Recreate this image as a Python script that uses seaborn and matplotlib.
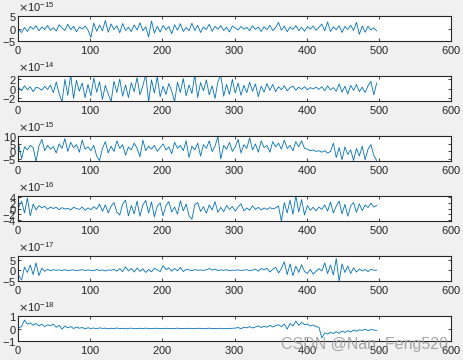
import numpy as np
import matplotlib
matplotlib.use("Agg")
import matplotlib.pyplot as plt
import seaborn as sns
from matplotlib.ticker import ScalarFormatter

# sample index (every 4th sample of 1..500)
sample = np.arange(1, 501, 4)

# each series, in units of its exponent
sig1 = [-0.5, -1.6, 0.4, -1.2, 0.8, -0.3, 1.1, -0.9, 0.6, -0.4,
        1.2, -0.7, 0.3, -1.0, 1.5, 0.2, -0.8, 1.7, -0.5, 0.9,
        -1.3, 0.6, -0.2, 1.0, -0.6, -3.6, 2.2, -1.1, 1.4, -0.9,
        3.2, -1.5, 1.8, -0.4, 1.1, -1.7, 2.0, -0.8, 0.5, -1.2,
        1.4, -0.6, 2.3, -0.9, 0.7, -3.4, 3.0, -1.8, 0.9, -1.4,
        1.2, -0.5, 0.8, -2.1, 1.5, -0.7, 1.9, -1.2, 0.4, -0.9,
        2.1, -0.8, 1.3, -1.6, 0.6, -0.4, 1.7, -1.1, 0.9, -0.3,
        1.2, -0.8, 0.5, -1.4, 1.0, 0.2, -0.6, 0.8, -0.3, 0.5,
        -0.9, 1.1, -0.4, 0.6, -1.2, 0.7, -0.5, 1.3, -0.8, 0.4,
        2.4, -0.7, 1.0, -1.3, 0.6, -0.4, 1.2, -0.9, 0.5, -1.1,
        0.8, -0.3, 1.0, -0.7, 0.4, 1.8, -0.9, 2.6, -1.2, 0.7,
        -0.5, 1.1, -1.6, 0.8, -0.4, 1.3, -0.8, 2.5, -2.3, 1.0,
        -1.5, 0.9, -0.6, 0.3, -1.0]
sig2 = [0.2, -0.5, 0.6, -0.3, 0.4, -0.7, 0.3, 0.1, -0.4, 0.5,
        -0.2, 0.7, -0.9, 1.4, -1.1, -3.0, 2.0, -1.5, 3.0, -2.2,
        1.8, -0.6, 1.2, -2.0, 0.9, -1.6, 2.3, -0.8, 1.5, -2.4,
        0.7, -1.2, -2.9, 1.6, -0.9, 2.1, -1.7, 0.8, -2.0, 1.3,
        -0.7, 2.4, -1.4, 0.6, 3.0, -2.9, 1.9, -1.0, 2.6, -1.8,
        0.5, -1.3, 1.1, -0.6, -2.9, 1.4, -0.9, 2.2, -1.6, 0.8,
        -1.1, 3.0, -2.0, 1.3, -0.5, 1.9, -1.4, 0.6, -2.2, 1.5,
        3.0, -1.7, 0.9, -1.3, 2.0, -1.0, 1.2, -1.5, 0.7, -0.9,
        1.4, -0.6, 1.0, -1.8, 0.5, -0.8, 1.1, -0.4, 0.9, -0.7,
        0.4, -0.3, 0.6, -0.5, 0.2, 0.5, -0.4, 0.3, -0.2, 0.4,
        -0.3, 0.2, -0.1, 0.3, -0.2, 0.4, -0.5, 0.6, -0.3, 0.2,
        -0.6, 1.0, -0.8, 0.5, -1.2, 0.7, -0.4, 0.9, -0.7, 0.3,
        -0.9, 0.6, 1.6, -1.4, 1.2]
sig3 = [4.5, -4.8, 3.0, 1.0, 4.0, 2.5, -6.5, 3.5, 8.0, 0.5,
        4.0, 1.5, 3.2, -1.0, 5.0, 2.0, 8.5, 0.0, 6.0, 2.5,
        4.5, -0.5, 7.5, 1.5, 3.0, 0.5, 4.0, -3.0, -6.0, 2.0,
        6.5, -1.0, 3.5, 0.0, 7.0, 2.0, 4.5, -2.5, 3.0, 1.0,
        5.5, 2.0, -3.5, 7.5, 0.5, 3.5, 1.5, 4.0, 0.0, 2.5,
        5.0, 1.0, 3.0, -1.5, 6.0, 2.0, 4.0, 0.5, 7.0, -4.0,
        3.5, 1.0, 5.5, -3.0, 4.5, 2.0, 7.0, 0.0, 3.5, 10.0,
        -5.0, 4.0, 1.5, 6.0, 0.0, 3.0, 8.0, -1.0, 4.5, 2.0,
        9.0, 1.0, 5.0, -0.5, 7.0, 2.5, 4.0, -0.5, 6.5, 3.0,
        5.5, 1.5, 7.5, 2.0, 4.0, 0.5, 6.5, 3.0, 7.0, 2.0,
        1.5, 0.5, 1.0, 0.0, 0.5, -0.5, 0.5, -1.0, 0.0, 5.5,
        -4.0, 2.5, -5.5, 3.0, -2.0, 1.0, -6.0, 2.0, -3.0, 3.5,
        -5.5, 1.5, 4.5, -2.5, -6.0]
sig4 = [0.5, 2.5, -1.5, 3.5, -2.5, 1.5, -0.5, 1.0, 0.2, 0.8,
        -0.3, 0.5, 0.0, 0.4, -0.4, 0.3, -0.2, 0.1, -0.5, 0.4,
        0.0, -0.3, 0.5, -0.6, 0.2, -0.4, 0.6, -0.2, 1.5, -1.0,
        1.2, -1.5, 0.8, 2.0, -1.2, -2.2, 1.5, 2.8, -2.5, 1.0,
        -1.8, 2.5, -2.6, 1.2, 2.7, -1.5, 2.2, -2.8, 0.8, 1.9,
        -2.5, 1.0, 2.3, -1.2, 0.5, -1.9, 2.6, -0.8, 1.5, -2.4,
        -3.6, 1.3, 2.0, -1.0, 0.6, -1.6, 1.2, -0.5, 2.3, -1.3,
        0.4, -1.1, 1.0, -0.3, 0.7, -0.9, 0.5, 1.6, -0.8, 0.2,
        -0.6, 0.9, -0.3, 0.4, -0.5, 0.2, -0.3, 0.3, -0.1, 0.2,
        0.8, -4.3, 2.0, -1.5, 2.8, -2.0, 4.3, -1.2, 3.0, -2.2,
        1.0, -0.6, 0.4, -0.8, 0.5, -0.3, 1.2, -0.9, 2.2, -1.5,
        0.8, 2.5, -1.8, 1.4, -2.6, 0.9, 2.0, -1.3, 1.6, -0.7,
        1.2, 0.3, 1.8, 0.5, 1.0]
sig5 = [-2.5, -4.5, 1.5, -1.0, 2.5, -2.0, 3.5, -2.5, 1.0, -0.5,
        0.5, -0.2, 0.3, 0.0, 0.2, -0.1, 0.3, -0.2, 0.1, 0.2,
        -0.2, 0.1, 0.3, -0.1, 0.2, 0.0, -0.2, 0.4, -0.1, 0.2,
        -0.3, 0.2, 0.0, 0.5, -0.4, 0.8, -0.6, 1.6, -0.3, 0.9,
        -0.8, 1.1, -0.5, 0.7, -1.0, 0.4, -0.7, 1.0, 0.2, -0.6,
        2.2, 0.3, 1.2, -0.4, 0.9, -0.3, 1.4, -0.6, 0.5, 0.2,
        -0.2, 0.3, 0.0, 0.2, -0.1, 0.3, 0.8, 0.1, 0.6, -0.2,
        0.2, 0.0, 0.3, -0.2, 0.1, 0.0, 0.2, -0.1, 0.1, 0.3,
        -0.2, 0.1, 0.6, -0.4, 0.8, 0.2, 1.0, -0.8, 0.5, 1.4,
        -1.2, 0.8, 4.0, -2.0, 3.0, -2.5, 2.0, -1.0, 2.6, -0.5,
        -1.5, 0.5, -1.8, -0.5, 0.8, -0.3, 3.5, -1.5, 2.5, -2.2,
        5.5, -5.2, 3.0, -1.0, 2.0, -1.5, 1.2, -0.8, 0.6, -0.3,
        0.4, -0.6, 0.5, 0.0, 0.1]
sig6 = [0.05, 0.15, 0.68, 0.35, 0.45, 0.25, 0.40, 0.20, 0.35, 0.15,
        0.30, 0.22, 0.35, 0.10, 0.25, -0.05, 0.20, 0.05, 0.15, 0.00,
        0.12, 0.02, 0.08, -0.03, 0.06, 0.00, 0.04, -0.02, 0.05, 0.01,
        0.03, -0.02, 0.02, 0.00, 0.04, -0.01, 0.02, -0.03, 0.01, 0.03,
        -0.02, 0.00, 0.02, -0.01, 0.03, 0.00, -0.02, 0.01, 0.02, -0.01,
        0.00, 0.02, -0.02, 0.01, 0.00, 0.03, -0.01, 0.01, -0.02, 0.02,
        0.00, -0.01, 0.02, 0.01, -0.02, 0.00, 0.03, -0.01, 0.01, 0.00,
        0.02, -0.02, 0.01, 0.00, 0.02, 0.03, 0.08, -0.02, 0.10, 0.05,
        0.15, 0.04, 0.12, 0.20, 0.08, 0.18, 0.10, 0.25, 0.12, 0.22,
        0.30, 0.15, 0.35, -0.05, 0.40, 0.20, 0.60, 0.25, 0.50, 0.30,
        0.35, 0.20, 0.28, 0.15, 0.10, -0.75, -0.35, -0.45, -0.30, -0.40,
        -0.25, -0.38, -0.20, -0.32, -0.18, -0.28, -0.12, -0.22, -0.10, -0.15,
        -0.05, -0.18, -0.08, -0.12, -0.15]

signals = [sig1, sig2, sig3, sig4, sig5, sig6]
exponents = [-15, -14, -15, -16, -17, -18]
y_limits = [(-5, 5), (-2.75, 2.75), (-6.3, 10.2), (-4.2, 4.2), (-5, 6.7), (-1, 1)]
y_ticks = [[-5, 0, 5], [-2, 0, 2], [-5, 0, 5, 10], [-4, -2, 0, 2, 4], [-5, 0, 5], [-1, 0, 1]]
x_ticks = [0, 100, 200, 300, 400, 500, 600]

sns.set_theme(style="ticks")
plt.rcParams["font.family"] = ["Liberation Sans", "DejaVu Sans"]
plt.rcParams["axes.unicode_minus"] = False
plt.rcParams["axes.formatter.use_mathtext"] = True

fig = plt.figure(figsize=(4.63, 3.6), dpi=100, facecolor="#F0F0F0")
tops = [16, 76, 136, 196, 256, 316]
for i, (sig, ex) in enumerate(zip(signals, exponents)):
    top = tops[i]
    ax = fig.add_axes([18 / 463, 1 - (top + 25) / 360, 433 / 463, 25 / 360])
    ax.set_facecolor("white")
    scale = 10.0 ** ex
    sns.lineplot(x=sample, y=np.array(sig) * scale, ax=ax, color="#0072BD", linewidth=0.6)
    ax.set_xlim(0, 600)
    ax.set_ylim(y_limits[i][0] * scale, y_limits[i][1] * scale)
    ax.set_xticks(x_ticks)
    ax.set_yticks(np.array(y_ticks[i]) * scale)
    fmt = ScalarFormatter(useMathText=True)
    fmt.set_powerlimits((ex, ex))
    ax.yaxis.set_major_formatter(fmt)
    ax.yaxis.get_offset_text().set_fontsize(8)
    ax.yaxis.get_offset_text().set_color("#262626")
    ax.tick_params(direction="in", top=True, right=True, length=2.5, width=0.6,
                   labelsize=8, colors="#262626", pad=2)
    ax.tick_params(axis="y", pad=1)
    for sp in ax.spines.values():
        sp.set_color("#262626")
        sp.set_linewidth(0.8)
    ax.set_xlabel("")
    ax.set_ylabel("")

fig.text(448 / 463, 1 - 344 / 360, "CSDN @Nan_Feng520", ha="right", va="center",
         fontsize=11.5, color="#9a9a9a", alpha=0.85)

fig.savefig("out.png", dpi=100, facecolor=fig.get_facecolor())
